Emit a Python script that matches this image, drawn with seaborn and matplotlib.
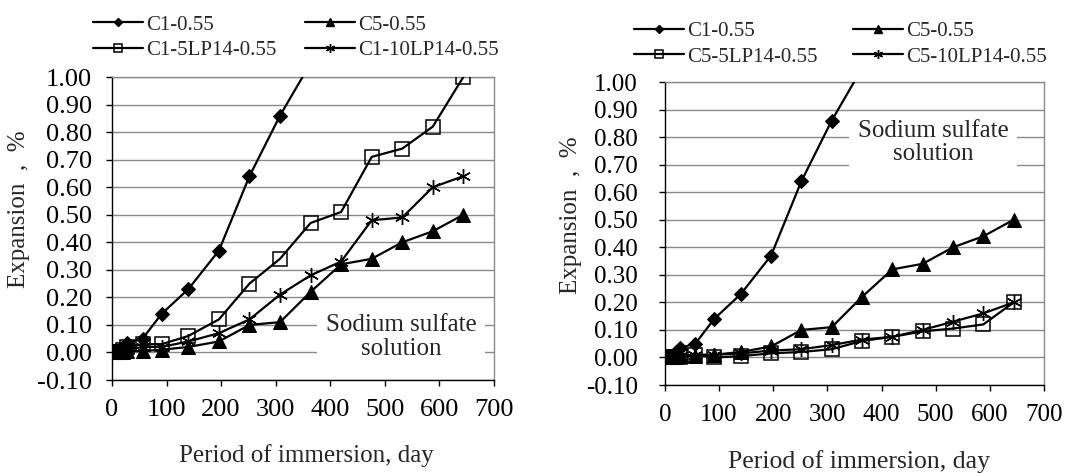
import matplotlib
matplotlib.use("Agg")
import matplotlib.pyplot as plt
from matplotlib.lines import Line2D
import seaborn as sns

# ---- data ----
days = [0, 7, 14, 21, 28, 56, 91, 140, 196, 252, 308, 364, 420, 476, 532, 588, 644]

c1_055 = [0.0, 0.005, 0.01, 0.02, 0.035, 0.05, 0.14, 0.23, 0.37, 0.64, 0.86, 1.05]
c5_055 = [0.0, 0.0, 0.0, 0.0, 0.005, 0.005, 0.01, 0.02, 0.04, 0.10, 0.11, 0.22, 0.32, 0.34, 0.40, 0.44, 0.50]
c1_5lp14 = [0.0, 0.0, 0.0, 0.01, 0.02, 0.03, 0.03, 0.06, 0.12, 0.25, 0.34, 0.47, 0.51, 0.71, 0.74, 0.82, 1.00]
c1_10lp14 = [0.0, 0.0, 0.0, 0.01, 0.01, 0.02, 0.02, 0.04, 0.07, 0.12, 0.21, 0.28, 0.33, 0.48, 0.49, 0.60, 0.64]
c5_5lp14 = [0.0, 0.0, 0.0, 0.0, 0.0, 0.01, 0.0, 0.005, 0.015, 0.02, 0.03, 0.06, 0.075, 0.095, 0.105, 0.12, 0.20]
c5_10lp14 = [0.0, 0.0, 0.0, 0.0, 0.005, 0.01, 0.01, 0.015, 0.025, 0.03, 0.045, 0.065, 0.075, 0.10, 0.13, 0.16, 0.20]

xticks = [0, 100, 200, 300, 400, 500, 600, 700]
yticks = [-0.1, 0.0, 0.1, 0.2, 0.3, 0.4, 0.5, 0.6, 0.7, 0.8, 0.9, 1.0]

left_series = [("C1-0.55", c1_055, "D"), ("C5-0.55", c5_055, "^"),
               ("C1-5LP14-0.55", c1_5lp14, "s"), ("C1-10LP14-0.55", c1_10lp14, "star")]
right_series = [("C1-0.55", c1_055, "D"), ("C5-0.55", c5_055, "^"),
                ("C5-5LP14-0.55", c5_5lp14, "s"), ("C5-10LP14-0.55", c5_10lp14, "star")]

sns.set_theme(style="white")
plt.rcParams['font.family'] = ['Liberation Serif', 'DejaVu Serif']

fig = plt.figure(figsize=(10.86, 4.73), dpi=100)
ax1 = fig.add_axes([0.1031, 0.1966, 0.3517, 0.6406])
ax2 = fig.add_axes([0.6123, 0.1860, 0.3490, 0.6406])

GRID = "#8a8a8a"


def marker_style(m, legend=False):
    s = 0.6 if legend else 1.0
    if m == "D":
        return dict(marker="D", markersize=7.4 * s, markerfacecolor="black", markeredgecolor="black")
    if m == "^":
        return dict(marker="^", markersize=10.2 * s, markerfacecolor="black", markeredgecolor="black")
    if m == "s":
        return dict(marker="s", markersize=9.4 * s, markerfacecolor="none", markeredgecolor="black",
                    markeredgewidth=1.1)
    return dict(marker=(6, 2, 0), markersize=10.8 * s, markeredgecolor="black", markeredgewidth=1.0)


def draw(ax, series, tick_fs, ypad, text_xy, legend_anchor, colspace, ylab_xy, xlab_xy, xlab_fs):
    for name, vals, m in series:
        sns.lineplot(x=days[:len(vals)], y=vals, ax=ax, color="black", linewidth=1.6,
                     **marker_style(m), zorder=3)
    ax.set_xlim(0, 700)
    ax.set_ylim(-0.1, 1.0)
    ax.set_xticks(xticks)
    ax.set_yticks(yticks)
    ax.set_yticklabels([f"{v:.2f}" for v in yticks])
    ax.set_xticklabels([str(v) for v in xticks])
    ax.tick_params(axis="both", labelsize=tick_fs, colors="black", length=4.5, width=1,
                   direction="out", left=True, bottom=True)
    ax.tick_params(axis="x", pad=9)
    ax.tick_params(axis="y", pad=ypad)
    ax.yaxis.grid(True, color=GRID, linewidth=1.0)
    ax.xaxis.grid(False)
    for sp in ["left", "bottom"]:
        ax.spines[sp].set_color("black")
        ax.spines[sp].set_linewidth(1.0)
    for sp in ["top", "right"]:
        ax.spines[sp].set_color(GRID)
        ax.spines[sp].set_linewidth(1.0)
    ax.set_xlabel("Period of immersion, day", fontsize=xlab_fs)
    ax.xaxis.set_label_coords(*xlab_xy)
    ax.set_ylabel("Expansion  ,  %", fontsize=18)
    ax.yaxis.set_label_coords(*ylab_xy)
    ax.text(text_xy[0], text_xy[1], "Sodium sulfate\nsolution", transform=ax.transAxes,
            ha="center", va="center", fontsize=18, linespacing=1.1, zorder=2,
            bbox=dict(facecolor="white", edgecolor="none", pad=6))
    handles = [Line2D([0], [0], color="black", linewidth=1.6, **marker_style(m, legend=True))
               for _, _, m in series]
    labels = [n for n, _, _ in series]
    order = [0, 2, 1, 3]
    ax.legend([handles[i] for i in order], [labels[i] for i in order], ncol=2,
              loc="center left", bbox_to_anchor=legend_anchor, frameon=False,
              fontsize=15, handlelength=2.4, handletextpad=0.15, columnspacing=colspace,
              labelspacing=0.28, borderaxespad=0, borderpad=0)


draw(ax1, left_series, 19, 10, (0.757, 0.142), (-0.0497, 1.130), 1.35,
     (-0.215, 0.564), (0.51, -0.212), 18)
draw(ax2, right_series, 18, 15, (0.707, 0.800), (-0.0818, 1.125), 1.68,
     (-0.218, 0.561), (0.512, -0.215), 18.5)

fig.savefig("out.png", dpi=100)
